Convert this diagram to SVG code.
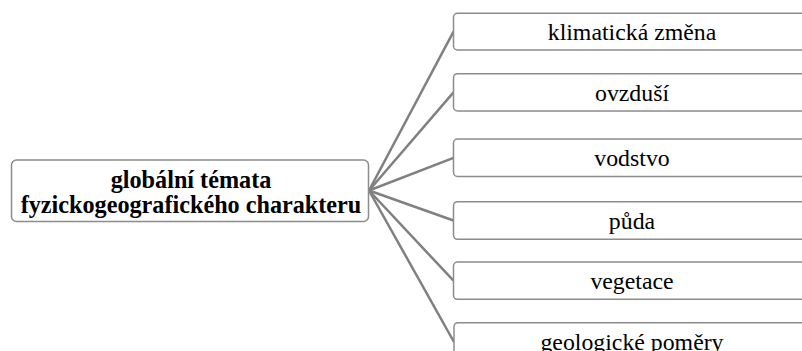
<svg xmlns="http://www.w3.org/2000/svg" width="802" height="351" viewBox="0 0 802 351">
<style>
.box{fill:#ffffff;stroke:#8c8c8c;stroke-width:1.5}
.lbl{font-family:'Liberation Serif','Times New Roman',serif;font-size:23.8px;fill:#000;text-anchor:middle}
.main{font-family:'Liberation Serif','Times New Roman',serif;font-size:24.2px;font-weight:bold;fill:#000;text-anchor:middle}
.conn{stroke:#808080;stroke-width:2.5;fill:none}
</style>
<rect width="802" height="351" fill="#ffffff"/>
<g id="connectors">
<line class="conn" x1="369" y1="190.5" x2="453.5" y2="31.7"/>
<line class="conn" x1="369" y1="190.5" x2="453.5" y2="92.4"/>
<line class="conn" x1="369" y1="190.5" x2="453.5" y2="157.8"/>
<line class="conn" x1="369" y1="190.5" x2="453.5" y2="220.5"/>
<line class="conn" x1="369" y1="190.5" x2="453.5" y2="280.7"/>
<line class="conn" x1="369" y1="190.5" x2="454" y2="342"/>
</g>
<g id="center">
<rect class="box" x="11.5" y="160" width="357" height="61.5" rx="5"/>
<text class="main" x="191" y="188">globální témata</text>
<text class="main" x="191" y="213.3">fyzickogeografického charakteru</text>
</g>
<g id="n1">
<rect class="box" x="453.5" y="13.3" width="360" height="36.7" rx="4"/>
<text class="lbl" x="632" y="40">klimatická změna</text>
</g>
<g id="n2">
<rect class="box" x="453.5" y="73.7" width="360" height="37.3" rx="4"/>
<text class="lbl" x="632" y="100.7">ovzduší</text>
</g>
<g id="n3">
<rect class="box" x="453.5" y="139" width="360" height="37.5" rx="4"/>
<text class="lbl" x="632" y="166.2">vodstvo</text>
</g>
<g id="n4">
<rect class="box" x="453.5" y="201.7" width="360" height="37.6" rx="4"/>
<text class="lbl" x="632" y="228.8">půda</text>
</g>
<g id="n5">
<rect class="box" x="453.5" y="262" width="360" height="37.3" rx="4"/>
<text class="lbl" x="632" y="289">vegetace</text>
</g>
<g id="n6">
<rect class="box" x="454" y="322.7" width="360" height="37.3" rx="4"/>
<text class="lbl" x="632" y="350">geologické poměry</text>
</g>
</svg>
